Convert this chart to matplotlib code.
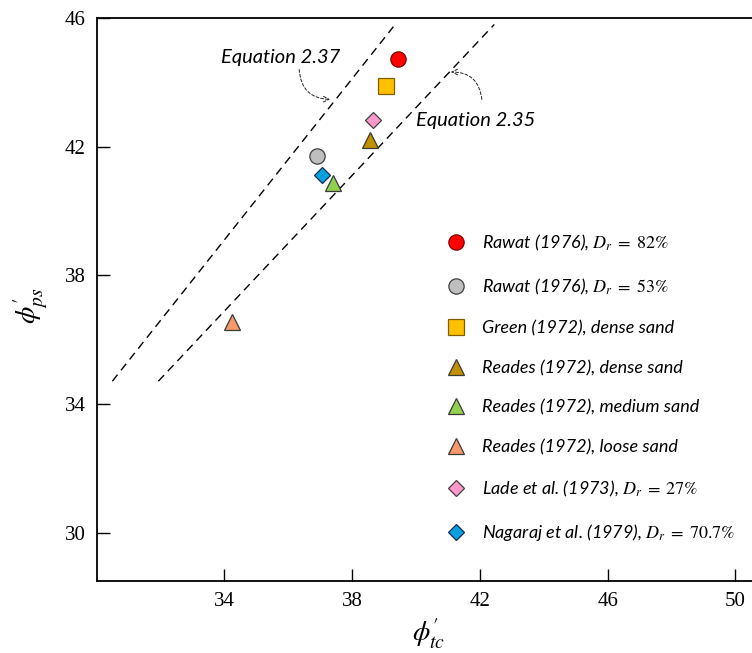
import matplotlib
matplotlib.use("Agg")
import matplotlib.pyplot as plt

plt.rcParams["mathtext.fontset"] = "stix"

# Friction angles: triaxial compression (phi_tc) vs plane strain (phi_ps)
labels = [
    r"Rawat (1976), $D_r\;=\;82\%$",
    r"Rawat (1976), $D_r\;=\;53\%$",
    "Green (1972), dense sand",
    "Reades (1972), dense sand",
    "Reades (1972), medium sand",
    "Reades (1972), loose sand",
    r"Lade et al. (1973), $D_r\;=\;27\%$",
    r"Nagaraj et al. (1979), $D_r\;=\;70.7\%$",
]
phi_tc = [39.44, 36.91, 39.05, 38.56, 37.39, 34.24, 38.64, 37.05]
phi_ps = [44.73, 41.70, 43.90, 42.22, 40.87, 36.55, 42.84, 41.11]
markers = ["o", "o", "s", "^", "^", "^", "D", "D"]
face_colors = ["#FF0000", "#BFBFBF", "#FFC000", "#BF9000", "#92D050",
               "#F79A6B", "#FF99CC", "#0AA0E0"]
edge_colors = ["#7F0000", "#404040", "#7F6000", "#3A3A3A", "#3A3A3A",
               "#3A3A3A", "#404040", "#103050"]
marker_sizes = [11, 11, 11, 11, 11, 11, 7.8, 7.8]

# Equation lines (end points in phi_tc, phi_ps)
eq237_tc = [30.49, 39.29]
eq237_ps = [34.71, 45.73]
eq235_tc = [31.93, 42.45]
eq235_ps = [34.71, 45.80]

xticks = [34, 38, 42, 46, 50]
yticks = [30, 34, 38, 42, 46]

W, H = 752, 653
fig = plt.figure(figsize=(W / 100, H / 100), dpi=100)
ax = fig.add_axes([96.7 / W, 1 - 581 / H, 1 - 96.7 / W, (581 - 18) / H])

ax.plot(eq237_tc, eq237_ps, color="black", lw=1.0, dashes=(6, 4), zorder=1)
ax.plot(eq235_tc, eq235_ps, color="black", lw=1.0, dashes=(6, 4), zorder=1)

handles = []
for x, y, m, fc, ec, ms, lab in zip(phi_tc, phi_ps, markers, face_colors,
                                    edge_colors, marker_sizes, labels):
    h, = ax.plot([x], [y], linestyle="none", marker=m, markersize=ms,
                 markerfacecolor=fc, markeredgecolor=ec, markeredgewidth=0.9,
                 label=lab, zorder=3)
    handles.append(h)

ax.set_xlim(30, 50.52)
ax.set_ylim(28.5, 46)
ax.set_xticks(xticks)
ax.set_yticks(yticks)
ax.tick_params(direction="in", length=9, width=1.0, pad=8,
               labelsize=15, colors="black")
for lab in ax.get_xticklabels() + ax.get_yticklabels():
    lab.set_fontfamily("Liberation Serif")
for side in ["left", "bottom", "top"]:
    ax.spines[side].set_linewidth(1.3)
ax.spines["right"].set_visible(False)

# Axis titles
fig.text(429 / W, 1 - 634 / H, r"$\phi_{tc}^{\prime}$", fontsize=20,
         ha="center", va="center")
fig.text(30 / W, 1 - 306 / H, r"$\phi_{ps}^{\prime}$", fontsize=20,
         rotation=90, ha="center", va="center")

text_kw = dict(fontfamily="Lato", fontstyle="italic", fontsize=14.5,
               ha="center", va="center")
arrow_kw = dict(arrowstyle="->", color="#222222", lw=0.7,
                linestyle=(0, (3, 2)), shrinkA=0, shrinkB=0)

ax.text(35.76, 44.78, "Equation 2.37", **text_kw)
ax.annotate("", xy=(37.31, 43.47), xytext=(36.34, 44.40),
            arrowprops=dict(connectionstyle="arc3,rad=0.45", **arrow_kw))

ax.text(41.86, 42.80, "Equation 2.35", **text_kw)
ax.annotate("", xy=(41.09, 44.32), xytext=(42.06, 43.47),
            arrowprops=dict(connectionstyle="arc3,rad=0.45", **arrow_kw))

leg = ax.legend(handles=handles, loc="upper left",
                bbox_to_anchor=((440 - 96.7) / (W - 96.7), (581 - 226) / (581 - 18)),
                frameon=False, labelspacing=1.30, handlelength=1.0,
                handletextpad=0.95, borderaxespad=0,
                prop=dict(family="Lato", style="italic", size=13))

fig.savefig("out.png", dpi=100)
